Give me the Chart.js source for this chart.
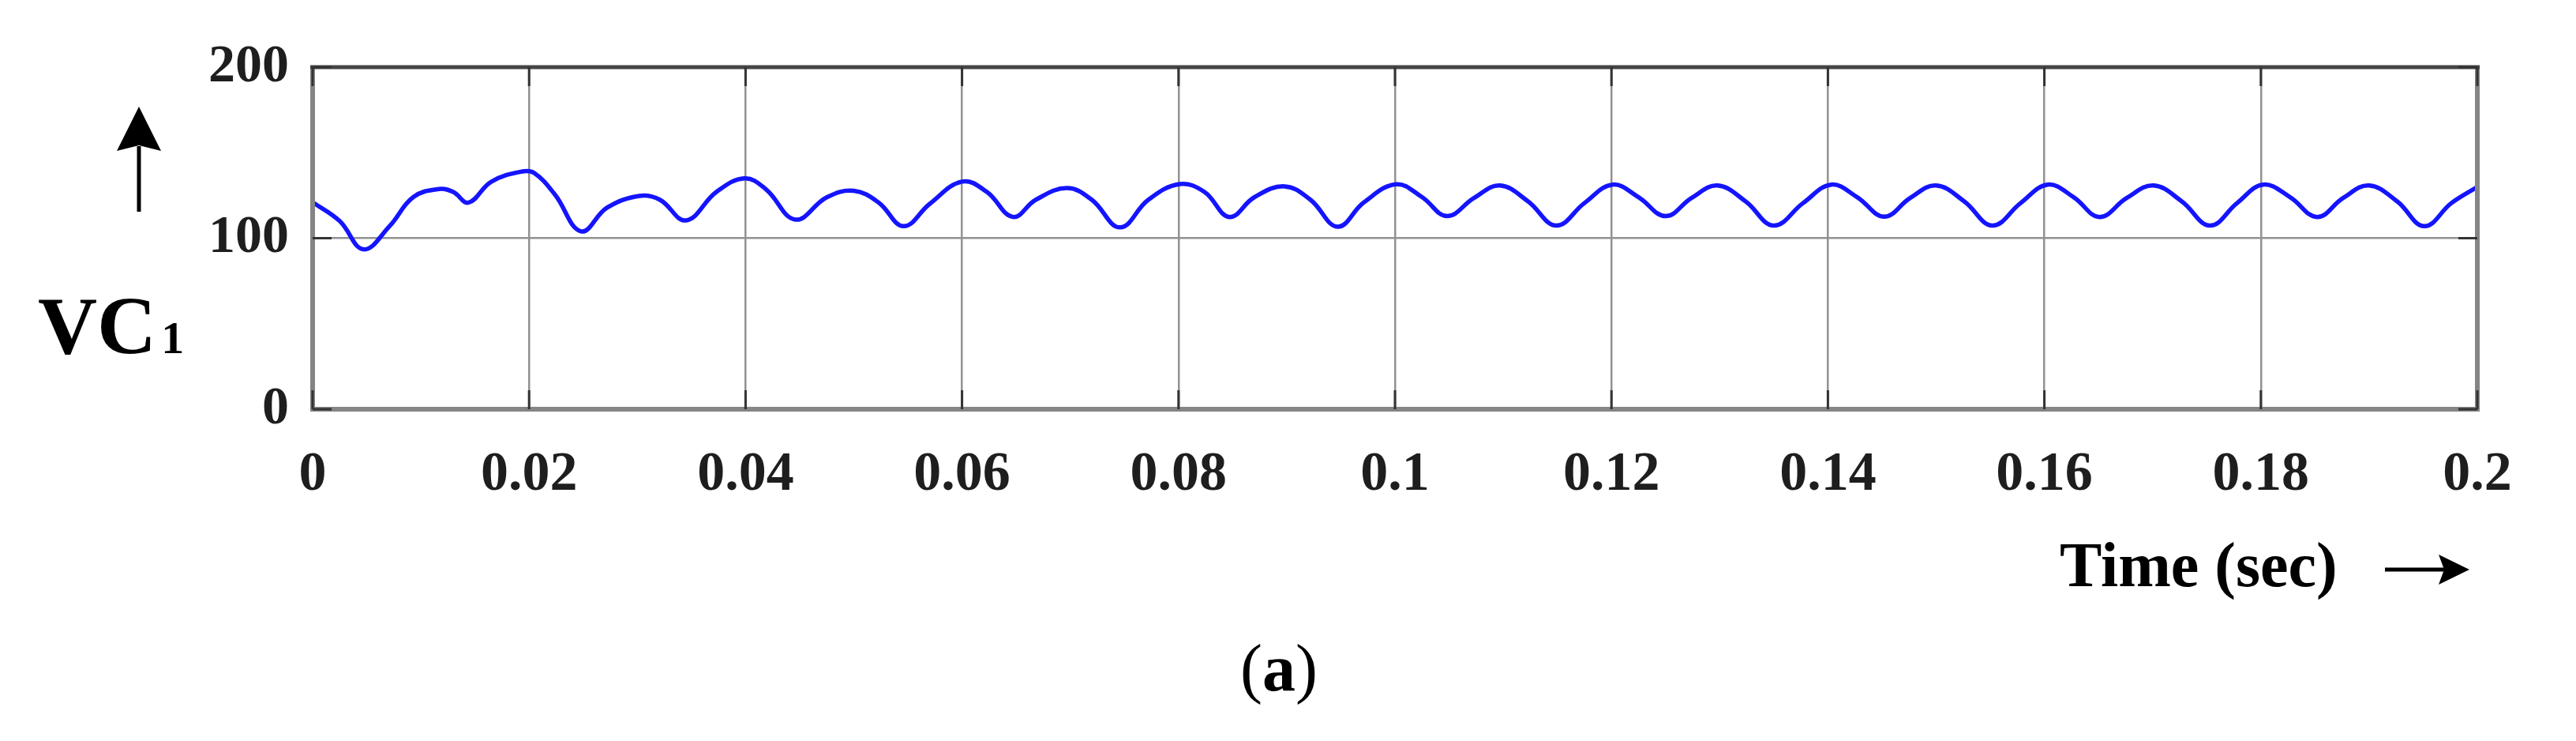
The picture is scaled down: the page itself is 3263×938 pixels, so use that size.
<!DOCTYPE html>
<html>
<head>
<meta charset="utf-8">
<style>
html,body{margin:0;padding:0;background:#ffffff;}
canvas{display:block;}
</style>
<script src="https://cdn.jsdelivr.net/npm/chart.js@4.4.0/dist/chart.umd.min.js"></script>
</head>
<body>
<canvas id="c" width="3263" height="938"></canvas>
<script>
// ---- data ----
const timeSec = [
  0.0000, 0.0025, 0.0047, 0.0071, 0.0093, 0.0117, 0.0130, 0.0144, 0.0165, 0.0193,
  0.0205, 0.0224, 0.0248, 0.0272, 0.0302, 0.0321, 0.0345, 0.0373, 0.0399, 0.0419,
  0.0446, 0.0475, 0.0500, 0.0523, 0.0546, 0.0570, 0.0600, 0.0623, 0.0647, 0.0668,
  0.0697, 0.0720, 0.0746, 0.0772, 0.0801, 0.0824, 0.0847, 0.0870, 0.0898, 0.0922,
  0.0947, 0.0971, 0.1001, 0.1025, 0.1048, 0.1073, 0.1097, 0.1123, 0.1149, 0.1175,
  0.1201, 0.1225, 0.1250, 0.1274, 0.1298, 0.1324, 0.1350, 0.1377, 0.1403, 0.1427,
  0.1452, 0.1476, 0.1500, 0.1526, 0.1552, 0.1578, 0.1603, 0.1627, 0.1651, 0.1676,
  0.1701, 0.1727, 0.1753, 0.1778, 0.1802, 0.1827, 0.1852, 0.1876, 0.1900, 0.1926,
  0.1951, 0.1976, 0.2000
];
const vc1Volts = [
  121.0, 110.0, 93.5, 107.0, 124.0, 128.8, 127.0, 120.8, 133.0, 138.9,
  138.0, 125.4, 104.0, 117.8, 124.7, 122.4, 110.4, 127.0, 135.0, 128.5,
  110.9, 123.9, 127.7, 120.8, 107.0, 120.0, 133.1, 127.0, 112.4, 122.4,
  129.3, 122.4, 106.3, 122.4, 131.6, 127.0, 112.4, 123.9, 130.3, 122.4,
  106.7, 120.8, 131.5, 124.0, 112.9, 123.5, 130.8, 121.5, 107.4, 120.5,
  131.3, 124.0, 112.9, 123.5, 130.8, 121.5, 107.4, 120.5, 131.3, 124.0,
  112.6, 123.5, 130.8, 121.5, 107.4, 120.5, 131.3, 124.0, 112.4, 123.5,
  130.8, 121.5, 107.4, 120.5, 131.3, 124.0, 112.4, 123.5, 130.8, 121.5,
  107.0, 120.5, 130.0
];
const xTickValues = [0, 0.02, 0.04, 0.06, 0.08, 0.1, 0.12, 0.14, 0.16, 0.18, 0.2];
const xTickLabels = ['0', '0.02', '0.04', '0.06', '0.08', '0.1', '0.12', '0.14', '0.16', '0.18', '0.2'];
const yTickValues = [0, 100, 200];
const yTickLabels = ['0', '100', '200'];
const yLabelMain = 'VC';
const yLabelSub = '1';
const xLabelText = 'Time (sec)';
const panelLabel = 'a';

// ---- plugins ----
const framePlugin = {
  id: 'frame',
  afterDraw(chart) {
    const { ctx, chartArea: a, scales } = chart;
    const xs = scales.x, ys = scales.y;
    ctx.save();
    ctx.lineCap = 'butt';
    ctx.strokeStyle = '#858585';
    ctx.lineWidth = 6;
    ctx.beginPath();
    ctx.moveTo(a.left, a.top); ctx.lineTo(a.left, a.bottom);
    ctx.lineTo(a.right, a.bottom); ctx.lineTo(a.right, a.top);
    ctx.stroke();
    ctx.strokeStyle = '#454545';
    ctx.lineWidth = 5;
    ctx.beginPath();
    ctx.moveTo(a.left - 3, a.top); ctx.lineTo(a.right + 3, a.top);
    ctx.stroke();
    ctx.strokeStyle = '#333333';
    ctx.lineWidth = 3;
    const tl = 24;
    xs.ticks.forEach(t => {
      const px = xs.getPixelForValue(t.value);
      ctx.beginPath();
      ctx.moveTo(px, a.top); ctx.lineTo(px, a.top + tl);
      ctx.moveTo(px, a.bottom); ctx.lineTo(px, a.bottom - tl);
      ctx.stroke();
    });
    ys.ticks.forEach(t => {
      const py = ys.getPixelForValue(t.value);
      ctx.beginPath();
      ctx.moveTo(a.left, py); ctx.lineTo(a.left + tl, py);
      ctx.moveTo(a.right, py); ctx.lineTo(a.right - tl, py);
      ctx.stroke();
    });
    ctx.restore();
  }
};

const labelPlugin = {
  id: 'labels',
  afterDraw(chart) {
    const { ctx, chartArea: a } = chart;
    ctx.save();
    ctx.fillStyle = '#000';
    ctx.strokeStyle = '#000';
    ctx.textBaseline = 'alphabetic';
    ctx.textAlign = 'left';
    // y label: VC1
    const vx = a.left - 348, vy = a.bottom - 71;
    ctx.font = 'bold 104px "Liberation Serif"';
    ctx.fillText(yLabelMain, vx, vy);
    const w = ctx.measureText(yLabelMain).width;
    ctx.font = 'bold 58px "Liberation Serif"';
    ctx.fillText(yLabelSub, vx + w + 6, vy);
    // up arrow
    const ax = a.left - 220;
    ctx.lineWidth = 5;
    ctx.beginPath();
    ctx.moveTo(ax, a.top + 100); ctx.lineTo(ax, a.top + 183);
    ctx.stroke();
    ctx.beginPath();
    ctx.moveTo(ax, a.top + 50);
    ctx.lineTo(ax + 28, a.top + 106);
    ctx.lineTo(ax, a.top + 99);
    ctx.lineTo(ax - 28, a.top + 106);
    ctx.closePath();
    ctx.fill();
    // x label
    ctx.font = 'bold 80px "Liberation Serif"';
    const tx = a.left + 2213, ty = a.bottom + 224;
    ctx.fillText(xLabelText, tx, ty);
    // right arrow
    const ry = a.bottom + 203;
    ctx.beginPath();
    ctx.moveTo(a.left + 2625, ry); ctx.lineTo(a.left + 2700, ry);
    ctx.stroke();
    ctx.beginPath();
    ctx.moveTo(a.left + 2732, ry);
    ctx.lineTo(a.left + 2693, ry - 19);
    ctx.lineTo(a.left + 2700, ry);
    ctx.lineTo(a.left + 2693, ry + 19);
    ctx.closePath();
    ctx.fill();
    // panel label (a)
    const px = a.left + 1175, py = a.bottom + 356;
    ctx.font = '84px "Liberation Serif"';
    ctx.fillText('(', px, py);
    let cx = px + ctx.measureText('(').width;
    ctx.font = 'bold 84px "Liberation Serif"';
    ctx.fillText(panelLabel, cx, py);
    cx += ctx.measureText(panelLabel).width;
    ctx.font = '84px "Liberation Serif"';
    ctx.fillText(')', cx, py);
    ctx.restore();
  }
};

const points = timeSec.map((t, i) => ({ x: t, y: vc1Volts[i] }));

new Chart(document.getElementById('c'), {
  type: 'line',
  data: {
    datasets: [{
      data: points,
      borderColor: '#1414ff',
      borderWidth: 5.5,
      pointRadius: 0,
      fill: false,
      tension: 0.4
    }]
  },
  options: {
    responsive: false,
    animation: false,
    devicePixelRatio: 1,
    layout: { padding: { left: 0, top: 85, right: 125, bottom: 0 } },
    plugins: { legend: { display: false }, tooltip: { enabled: false } },
    scales: {
      x: {
        type: 'linear',
        min: 0, max: 0.2,
        afterBuildTicks: s => { s.ticks = xTickValues.map(v => ({ value: v })); },
        afterFit: s => { s.height = 420; },
        border: { display: false },
        grid: { color: '#929292', lineWidth: 2.5, drawTicks: false },
        ticks: {
          autoSkip: false, maxRotation: 0, padding: 42,
          color: '#1e1e1e',
          font: { family: '"Liberation Serif"', size: 70, weight: 'bold' },
          callback: (v, i) => xTickLabels[i]
        }
      },
      y: {
        min: 0, max: 200,
        afterBuildTicks: s => { s.ticks = yTickValues.map(v => ({ value: v })); },
        afterFit: s => { s.width = 396; },
        border: { display: false },
        grid: { color: '#929292', lineWidth: 2.5, drawTicks: false },
        ticks: {
          padding: 30,
          color: '#1e1e1e',
          font: { family: '"Liberation Serif"', size: 68, weight: 'bold' },
          callback: (v, i) => yTickLabels[i]
        }
      }
    }
  },
  plugins: [framePlugin, labelPlugin]
});
</script>
</body>
</html>
